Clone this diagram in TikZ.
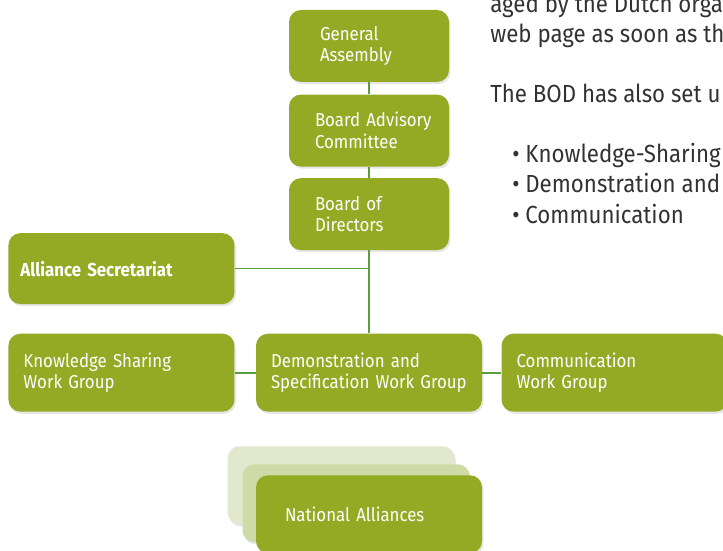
\documentclass[tikz,border=0pt]{standalone}
\usepackage{fontspec}
\setmainfont{Fira Sans}[FakeStretch=0.9]
\usepackage{tikz}
\usetikzlibrary{positioning,shadows,backgrounds}

\definecolor{boxgreen}{RGB}{148,170,36}
\definecolor{linegreen}{RGB}{88,158,62}
\definecolor{palegreen}{RGB}{226,232,206}
\definecolor{midgreen}{RGB}{207,219,166}
\definecolor{bodygray}{RGB}{50,50,50}

\begin{document}
\begin{tikzpicture}[
    box/.style={rounded corners=0.3cm, fill=boxgreen, text=white, align=left,
        font=\fontsize{13.3}{15.6}\selectfont, inner ysep=0pt,
        drop shadow={shadow xshift=1pt, shadow yshift=-1.5pt, opacity=0.2}},
    pad/.style={execute at begin node={\hangindent=#1\hangafter=0\relax}},
    topbox/.style={box, text width=3.35cm, inner xsep=0.325cm, minimum height=1.8cm, pad=0.325cm},
    widebox/.style={box, text width=5.25cm, inner xsep=0.2cm, minimum height=1.95cm, pad=0.175cm},
    conn/.style={draw=linegreen, line width=1.2pt},
    bodytext/.style={anchor=base west, text=bodygray, inner sep=0pt,
        font=\fontsize{17.6}{21.3}\selectfont}
]
    \useasboundingbox (0,0) rectangle (18.075,-13.775);

    \node[topbox, pad=0.45cm] (ga) at (9.225,-1.15) {General\\Assembly};
    \node[topbox, below=0.3cm of ga] (bac) {Board Advisory\\Committee};
    \node[topbox, below=0.275cm of bac] (bod) {Board of\\Directors};
    \node[widebox, below=2.075cm of bod] (ds) {Demonstration and\\Specification Work Group};
    \node[widebox, left=0.525cm of ds] (ks) {Knowledge Sharing\\Work Group};
    \node[widebox, right=0.475cm of ds] (cw) {Communication\\Work Group};
    \node[widebox, minimum height=1.775cm, pad=0.1cm,
        font=\fontsize{13.3}{15.6}\selectfont\bfseries, above=0.725cm of ks] (sec) {Alliance Secretariat};
    \node[widebox, pad=0.525cm, below=1.575cm of ds] (na) {National Alliances};

    \begin{scope}[on background layer]
        \node[box, fill=palegreen, minimum width=5.675cm, minimum height=1.95cm] (na3)
            at ([shift={(-0.7cm,0.725cm)}]na.center) {};
        \node[box, fill=midgreen, minimum width=5.675cm, minimum height=1.95cm] (na2)
            at ([shift={(-0.325cm,0.275cm)}]na.center) {};
    \end{scope}

    \draw[conn] (ga) -- (bac);
    \draw[conn] (bac) -- (bod);
    \draw[conn] (bod) -- (ds);
    \draw[conn] (sec) -- (sec -| bod.south);
    \draw[conn] (ks) -- (ds);
    \draw[conn] (ds) -- (cw);

    \node[bodytext] (t1) at (12.25,-0.325) {aged by the Dutch orga};
    \node[bodytext] (t2) at (12.25,-1.075) {web page as soon as th};
    \node[bodytext] (t3) at (12.25,-2.575) {The BOD has also set u};
    \node[bodytext] (b1) at (12.8,-4.075) {• Knowledge-Sharing};
    \node[bodytext] (b2) at (12.8,-4.825) {• Demonstration and};
    \node[bodytext] (b3) at (12.8,-5.575) {• Communication};
\end{tikzpicture}
\end{document}
